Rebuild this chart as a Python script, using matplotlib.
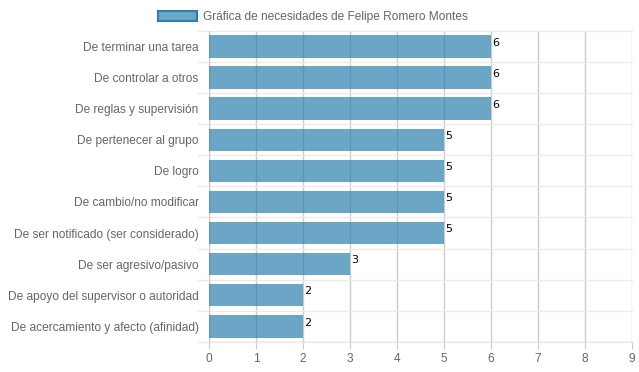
import matplotlib.pyplot as plt
from matplotlib.patches import Patch

plt.rcParams['font.family'] = ['Liberation Sans', 'DejaVu Sans']

categories = ['De terminar una tarea', 'De controlar a otros', 'De reglas y supervisión',
              'De pertenecer al grupo', 'De logro', 'De cambio/no modificar',
              'De ser notificado (ser considerado)', 'De ser agresivo/pasivo',
              'De apoyo del supervisor o autoridad', 'De acercamiento y afecto (afinidad)']
values = [6, 6, 6, 5, 5, 5, 5, 3, 2, 2]
label = 'Gráfica de necesidades de Felipe Romero Montes'

base = (45/255, 128/255, 174/255)

fig = plt.figure(figsize=(6.39, 3.72), dpi=100)
ax = fig.add_axes([0.327, 0.081, 0.662, 0.836])

y = list(range(len(categories)))
ax.barh(y, values, height=0.72, color=base, alpha=0.7, zorder=2)

ax.set_xlim(0, 9)
ax.set_ylim(len(categories) - 0.5, -0.5)
ax.set_xticks(range(10))
ax.set_yticks(y)
ax.set_yticklabels(categories)

# vertical grid (darker), horizontal grid at category boundaries (light)
for x in range(10):
    ax.axvline(x, color='#cccccc', lw=1, zorder=1)
for b in range(len(categories) + 1):
    ax.axhline(b - 0.5, xmin=-0.025, color='#ebebeb', lw=1, zorder=1, clip_on=False)

for i, v in enumerate(values):
    ax.text(v + 0.02, i - 0.12, str(v), fontsize=8, family='DejaVu Sans',
            color='black', va='center', ha='left', zorder=3)

for s in ax.spines.values():
    s.set_visible(False)
ax.axvline(0, color='#cccccc', lw=1, zorder=1)
ax.axhline(len(categories) - 0.5, color='#cccccc', lw=1, zorder=1)

ax.tick_params(axis='y', length=0, pad=7.5, labelsize=8.6, labelcolor='#666666')
ax.tick_params(axis='x', length=5, color='#cccccc', pad=3, labelsize=8.6, labelcolor='#666666')

handle = Patch(facecolor=base + (0.7,), edgecolor=base, linewidth=1.5)
fig.legend([handle], [label], loc='upper center', bbox_to_anchor=(0.49, 1.0), frameon=False,
           fontsize=8.6, labelcolor='#666666', handlelength=3.3, handleheight=1.0, handletextpad=0.5)

fig.savefig('out.png', dpi=100)
